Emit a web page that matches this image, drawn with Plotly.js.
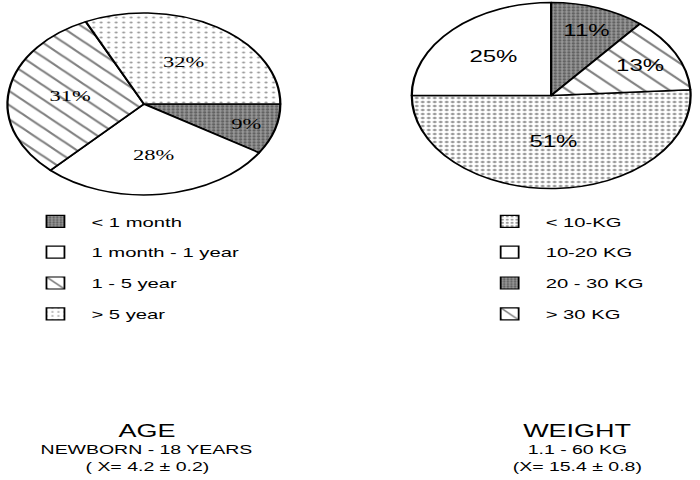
<!DOCTYPE html>
<html>
<head>
<meta charset="utf-8">
<script src="https://cdn.plot.ly/plotly-3.0.1.min.js"></script>
<style>
  html, body { margin: 0; padding: 0; background: #fff; overflow: hidden; }
  /* the scanned figure is stretched sideways, so draw narrow and widen it */
  #chart { width: 467px; height: 480px; transform: scale(1.499, 1); transform-origin: 0 0; }
</style>
</head>
<body>
<div id="chart"></div>
<script>
// left pie: age groups, clockwise from 3 o'clock
let ageLabels = ['&lt; 1 month', '1 month - 1 year', '1 - 5 year', '&gt; 5 year'];
let ageValues = [9, 28, 31, 32];
let ageTitle = ['AGE', 'NEWBORN - 18 YEARS', '( X= 4.2 ± 0.2)'];

// right pie: weight groups, clockwise from just above 3 o'clock
let weightLabels = ['&lt; 10-KG', '10-20 KG', '20 - 30 KG', '&gt; 30 KG'];
let weightValues = [51, 25, 11, 13];
let weightTitle = ['WEIGHT', '1.1 - 60 KG', '(X= 15.4 ± 0.8)'];

// fill looks (grey scale scan)
let fills = {
    dark: { bg: '#969696', fg: '#2e2e2e', shape: '.', size: 3, solidity: 0.45 },
    white: { bg: '#ffffff', fg: '#000000', shape: '', size: 8, solidity: 0.3 },
    hatch: { bg: '#ffffff', fg: '#000000', shape: '\\', size: 10, solidity: 0.18 },
    hatch2: { bg: '#ffffff', fg: '#000000', shape: '\\', size: 12, solidity: 0.15 },
    dots: { bg: '#ffffff', fg: '#3c3c3c', shape: '.', size: 5, solidity: 0.14 },
    dense: { bg: '#ffffff', fg: '#333333', shape: '.', size: 4, solidity: 0.3 },
};
let ageFills = ['dark', 'white', 'hatch', 'dots'];
let weightFills = ['dense', 'white', 'dark', 'hatch2'];

let W = 467;
let H = 480;

function pieMarker(keys) {
    return {
        colors: keys.map((k) => fills[k].bg),
        line: { color: '#000', width: 1.5 },
        pattern: {
            fillmode: 'overlay',
            shape: keys.map((k) => fills[k].shape),
            fgcolor: keys.map((k) => fills[k].fg),
            bgcolor: keys.map((k) => fills[k].bg),
            size: keys.map((k) => fills[k].size),
            solidity: keys.map((k) => fills[k].solidity),
        },
    };
}

// bar traces with no drawable point only carry the legend entries (so the rows can be spaced out)
function legendEntries(labels, keys, legendId) {
    return labels.map((lab, i) => {
        let f = fills[keys[i]];
        return {
            type: 'bar',
            x: [null],
            y: [null],
            name: lab,
            legend: legendId,
            legendgroup: legendId + '-' + i,
            showlegend: true,
            hoverinfo: 'skip',
            marker: {
                color: f.bg,
                line: { color: '#000', width: 1.2 },
                pattern: { fillmode: 'overlay', shape: f.shape, fgcolor: f.fg, bgcolor: f.bg, size: f.size, solidity: f.solidity },
            },
        };
    });
}

// pie placement in px (before the sideways stretch)
function domainOf(cx, cy, r) {
    return { x: [(cx - r) / W, (cx + r) / W], y: [1 - (cy + r) / H, 1 - (cy - r) / H] };
}

let agePie = {
    type: 'pie',
    labels: ageLabels,
    values: ageValues,
    sort: false,
    direction: 'clockwise',
    rotation: 90,
    showlegend: false,
    domain: domainOf(96, 104, 91),
    marker: pieMarker(ageFills),
    textinfo: 'percent',
    textposition: 'inside',
    insidetextorientation: 'horizontal',
    textfont: { family: 'Liberation Serif, Times New Roman, serif', size: 15, color: '#000' },
    hoverinfo: 'none',
};

let weightPie = {
    type: 'pie',
    labels: weightLabels,
    values: weightValues,
    sort: false,
    direction: 'clockwise',
    rotation: 86.4,
    showlegend: false,
    domain: domainOf(367.7, 95.5, 93),
    marker: pieMarker(weightFills),
    textinfo: 'percent',
    textposition: 'inside',
    insidetextorientation: 'horizontal',
    textfont: { family: 'Liberation Sans, Arial, sans-serif', size: 16, color: '#000' },
    hoverinfo: 'none',
};

let data = [agePie, weightPie]
    .concat(legendEntries(ageLabels, ageFills, 'legend'))
    .concat(legendEntries(weightLabels, weightFills, 'legend2'));

let sans = 'Liberation Sans, Arial, sans-serif';
let titleSizes = [18, 13, 13];
let titleY = [431, 449, 466];

function titleNotes(lines, cx) {
    return lines.map((t, i) => ({
        text: t,
        x: cx / W,
        y: 1 - titleY[i] / H,
        xref: 'paper',
        yref: 'paper',
        xanchor: 'center',
        yanchor: 'middle',
        showarrow: false,
        font: { family: sans, size: titleSizes[i], color: '#000' },
    }));
}

let legendStyle = {
    yanchor: 'top',
    xanchor: 'left',
    y: 1 - 206 / H,
    font: { family: sans, size: 13.5, color: '#000' },
    traceorder: 'grouped',
    tracegroupgap: 10.3,
    itemwidth: 38,
    bgcolor: 'rgba(0,0,0,0)',
};

let layout = {
    width: W,
    height: H,
    margin: { l: 0, r: 0, t: 0, b: 0 },
    paper_bgcolor: '#fff',
    plot_bgcolor: '#fff',
    showlegend: true,
    xaxis: { visible: false, range: [0, 1] },
    yaxis: { visible: false, range: [0, 1] },
    legend: Object.assign({ x: 13 / W }, legendStyle),
    legend2: Object.assign({ x: 316 / W }, legendStyle),
    annotations: titleNotes(ageTitle, 98).concat(titleNotes(weightTitle, 385)),
};

Plotly.newPlot('chart', data, layout, { staticPlot: true, displayModeBar: false });
</script>
</body>
</html>
